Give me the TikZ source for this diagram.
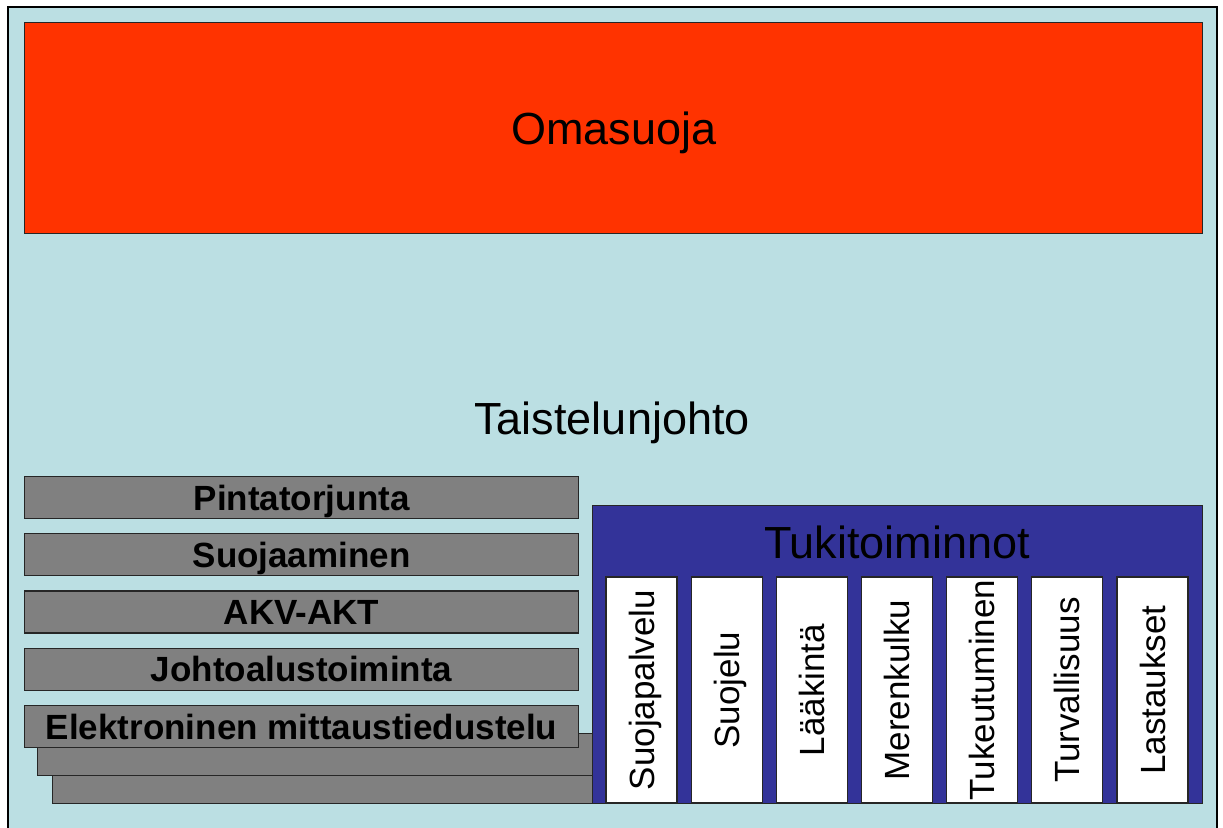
\documentclass[tikz,border=0pt]{standalone}
\usepackage{fontspec}
\setmainfont{Liberation Sans}
\usepackage{xcolor}
\usetikzlibrary{positioning}

\definecolor{pohja}{HTML}{BBDFE3}
\definecolor{punainen}{HTML}{FF3300}
\definecolor{harmaa}{HTML}{808080}
\definecolor{sininen}{HTML}{333399}

\tikzset{
    lohko/.style={draw=black!85, line width=1.2pt, inner sep=0pt,
        text height=25.2pt, text depth=0pt},
    palkki/.style={lohko, fill=harmaa, minimum width=554pt, minimum height=42pt,
        anchor=north west, font=\fontsize{35}{40}\selectfont\bfseries},
    varjo/.style={lohko, fill=harmaa, anchor=north west},
    sarake/.style={lohko, fill=white, rotate=90, minimum width=226pt,
        minimum height=71pt, font=\fontsize{35}{40}\selectfont},
    otsikko/.style={inner sep=0pt, text height=32.4pt, text depth=0pt,
        font=\fontsize{45}{50}\selectfont}
}

\begin{document}
\begin{tikzpicture}[x=1pt, y=-1pt]
    \useasboundingbox (0,0) rectangle (1223,827);
    % tausta
    \draw[fill=pohja, line width=2pt] (8,7) rectangle (1217,850);

    \node[lohko, otsikko, fill=punainen, anchor=north west, minimum width=1178pt,
        minimum height=211pt, draw=black!85] (omasuoja) at (24,22) {Omasuoja};
    \node[otsikko] (johto) at (612,418) {Taistelunjohto};

    % pinotut palkit
    \node[varjo, minimum width=560pt, minimum height=42pt] (varjo2) at (52,761) {};
    \node[varjo, minimum width=575pt, minimum height=42pt] (varjo1) at (37,733) {};
    \node[palkki] (pinta) at (24,476) {Pintatorjunta};
    \node[palkki, below=14pt of pinta] (suoj) {Suojaaminen};
    \node[palkki, below=14pt of suoj] (akv) {AKV-AKT};
    \node[palkki, below=14pt of akv] (johtoalusta) {Johtoalustoiminta};
    \node[palkki, below=14pt of johtoalusta] (elso) {Elektroninen mittaustiedustelu};

    % tukitoiminnot
    \node[lohko, fill=sininen, anchor=north west, minimum width=610pt,
        minimum height=298pt] (tuki) at (592,505) {};
    \node[otsikko] (tukiotsikko) at (897,542) {Tukitoiminnot};
    \foreach \nimi [count=\i from 0] in {Suojapalvelu, Suojelu, Lääkintä,
        Merenkulku, Tukeutuminen, Turvallisuus, Lastaukset}
        \node[sarake] (sarake\i) at (641.5+\i*85.17,690) {\nimi};
\end{tikzpicture}
\end{document}
